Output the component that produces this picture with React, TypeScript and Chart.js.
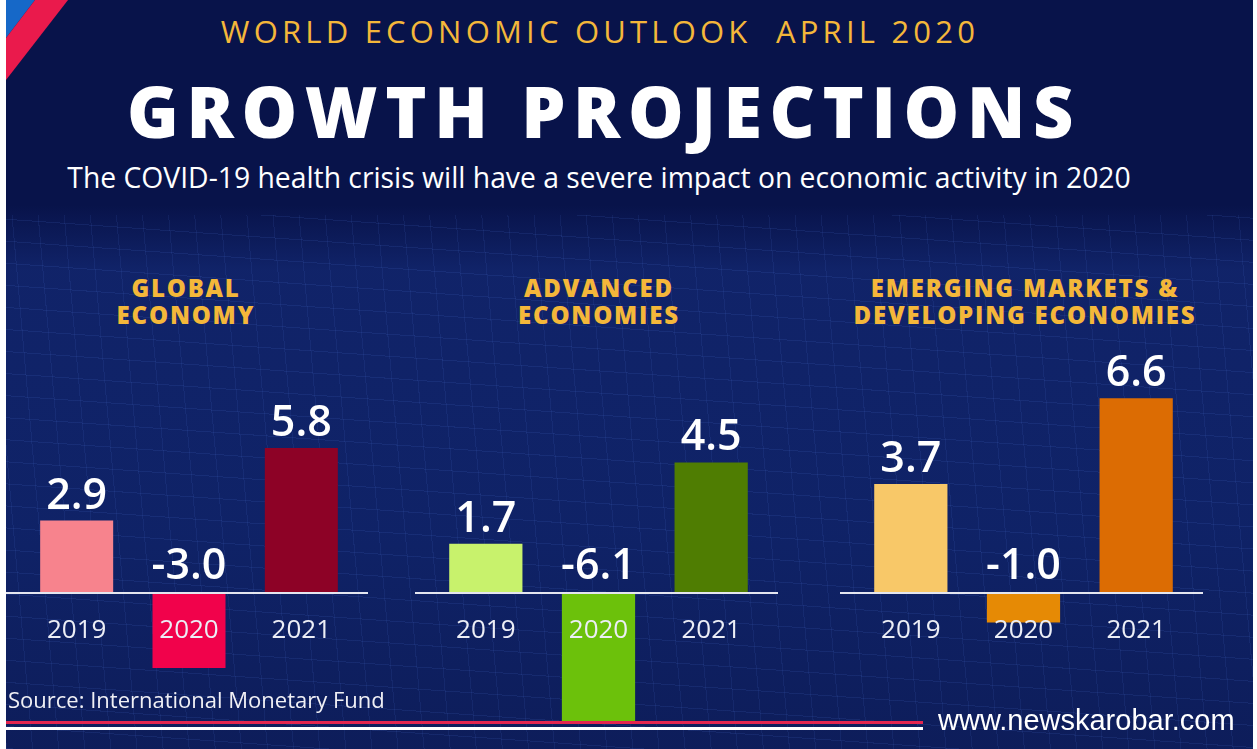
import React, { useEffect, useRef } from "react";
import { Chart, registerables } from "chart.js";

Chart.register(...registerables);

// ---------- data ----------
const years = ["2019", "2020", "2021"];
const globalValues = [2.9, -3.0, 5.8];
const advancedValues = [1.7, -6.1, 4.5];
const emergingValues = [3.7, -1.0, 6.6];

const globalTitle = ["GLOBAL", "ECONOMY"];
const advancedTitle = ["ADVANCED", "ECONOMIES"];
const emergingTitle = ["EMERGING MARKETS &", "DEVELOPING ECONOMIES"];

// ---------- styles ----------
const globalColors = ["#f7838d", "#f1024b", "#8d0226"];
const advancedColors = ["#c8f26c", "#6cc10b", "#4f7d02"];
const emergingColors = ["#f8c868", "#e68a05", "#dc6c03"];

const NAVY = "#08134a";
const GOLD = "#f4b73a";

const labelPlugin = {
  id: "barLabels",
  afterDatasetsDraw(chart: any) {
    const { ctx } = chart;
    const y = chart.scales.y;
    const zeroY = y.getPixelForValue(0);
    ctx.save();
    ctx.strokeStyle = "#e4e6f0";
    ctx.lineWidth = 2;
    ctx.beginPath();
    ctx.moveTo(0, zeroY);
    ctx.lineTo(chart.width, zeroY);
    ctx.stroke();
    const meta = chart.getDatasetMeta(0);
    const values = chart.data.datasets[0].data;
    meta.data.forEach((bar: any, i: number) => {
      const v = values[i] as number;
      ctx.font = '600 43px "Open Sans"';
      ctx.fillStyle = "#ffffff";
      ctx.textAlign = "center";
      ctx.textBaseline = "alphabetic";
      const ty = v >= 0 ? bar.y - 12 : zeroY - 14;
      ctx.fillText(v.toFixed(1), bar.x, ty);
      ctx.font = '26px "Open Sans"';
      ctx.fillStyle = "#eceef6";
      ctx.textBaseline = "middle";
      ctx.fillText(chart.data.labels[i], bar.x, zeroY + 38);
    });
    ctx.restore();
  },
};

function BarPanel(props: {
  values: number[];
  colors: string[];
  min: number;
  max: number;
  left: number;
  width: number;
}) {
  const ref = useRef<HTMLCanvasElement>(null);
  useEffect(() => {
    if (!ref.current) return;
    const chart = new Chart(ref.current, {
      type: "bar",
      data: {
        labels: years,
        datasets: [
          {
            data: props.values,
            backgroundColor: props.colors,
            borderWidth: 0,
            barPercentage: 0.65,
            categoryPercentage: 1,
          },
        ],
      },
      options: {
        responsive: false,
        animation: false,
        layout: { padding: { top: 30, bottom: 0, left: 14.5, right: 10.5 } },
        plugins: { legend: { display: false }, tooltip: { enabled: false } },
        scales: {
          x: { display: false },
          y: { display: false, min: props.min, max: props.max },
        },
      },
      plugins: [labelPlugin],
    });
    return () => chart.destroy();
  }, []);
  return (
    <canvas
      ref={ref}
      width={props.width}
      height={382}
      style={{ position: "absolute", left: props.left, top: 340, width: props.width, height: 382 }}
    />
  );
}

function Heading(props: { lines: string[]; center: number }) {
  return (
    <div
      style={{
        position: "absolute",
        left: props.center - 220,
        width: 440,
        top: 274,
        textAlign: "center",
        color: GOLD,
        fontFamily: '"Open Sans", sans-serif',
        fontWeight: 800,
        fontSize: 24,
        lineHeight: "27px",
        letterSpacing: 1.8,
      }}
    >
      {props.lines.map((l, i) => (
        <div key={i}>{l}</div>
      ))}
    </div>
  );
}

export default function App() {
  return (
    <div
      style={{
        position: "absolute",
        left: 0,
        top: 0,
        width: 1257,
        height: 749,
        background: "#ffffff",
        overflow: "hidden",
      }}
    >
      <div
        style={{
          position: "absolute",
          left: 6,
          top: 0,
          width: 1247,
          height: 749,
          background: NAVY,
          overflow: "hidden",
        }}
      >
        <div
          style={{
            position: "absolute",
            left: 0,
            top: 205,
            width: 1247,
            height: 544,
            background:
              "linear-gradient(180deg, rgba(16,34,100,0) 0%, rgba(18,38,110,0.85) 12%, rgba(16,36,106,0.9) 60%, rgba(14,30,92,0.9) 100%)",
          }}
        />
        <div
          style={{
            position: "absolute",
            left: 0,
            top: 215,
            width: 1247,
            height: 534,
            backgroundImage:
              "repeating-linear-gradient(4deg, rgba(80,120,220,0.13) 0px, rgba(80,120,220,0.13) 1px, transparent 1px, transparent 22px), repeating-linear-gradient(85deg, rgba(80,120,220,0.11) 0px, rgba(80,120,220,0.11) 1px, transparent 1px, transparent 26px)",
          }}
        />
        <svg width={80} height={90} style={{ position: "absolute", left: 0, top: 0 }}>
          <polygon points="0,0 29,0 0,38" fill="#1668c8" />
          <polygon points="29,0 62,0 0,80 0,38" fill="#ea1a4c" />
        </svg>
      </div>

      <div
        style={{
          position: "absolute",
          left: 0,
          width: 1200,
          top: 16,
          textAlign: "center",
          color: GOLD,
          fontFamily: '"Open Sans", sans-serif',
          fontSize: 31,
          lineHeight: "31px",
          letterSpacing: 4.2,
          whiteSpace: "pre",
        }}
      >
        {"WORLD ECONOMIC OUTLOOK  APRIL 2020"}
      </div>
      <div
        style={{
          position: "absolute",
          left: 4,
          width: 1200,
          top: 76,
          textAlign: "center",
          color: "#ffffff",
          fontFamily: '"Open Sans", sans-serif',
          fontWeight: 800,
          fontSize: 70,
          lineHeight: "70px",
          letterSpacing: 7.6,
          whiteSpace: "pre",
        }}
      >
        GROWTH PROJECTIONS
      </div>
      <div
        style={{
          position: "absolute",
          left: 0,
          width: 1198,
          top: 163,
          textAlign: "center",
          color: "#ffffff",
          fontFamily: '"Open Sans", sans-serif',
          fontSize: 28.3,
          lineHeight: "28px",
          whiteSpace: "pre",
        }}
      >
        The COVID-19 health crisis will have a severe impact on economic activity in 2020
      </div>

      <Heading lines={globalTitle} center={186} />
      <Heading lines={advancedTitle} center={599} />
      <Heading lines={emergingTitle} center={1025} />

      <BarPanel values={globalValues} colors={globalColors} min={-5.16} max={8.92} left={6} width={362} />
      <BarPanel values={advancedValues} colors={advancedColors} min={-4.45} max={7.69} left={415} width={363} />
      <BarPanel values={emergingValues} colors={emergingColors} min={-4.37} max={7.56} left={840} width={363} />

      <div
        style={{
          position: "absolute",
          left: 8,
          top: 688,
          color: "#f0f0f5",
          fontFamily: '"Open Sans", sans-serif',
          fontSize: 22,
          lineHeight: "22px",
          whiteSpace: "pre",
        }}
      >
        Source: International Monetary Fund
      </div>
      <div style={{ position: "absolute", left: 6, top: 721, width: 917, height: 3, background: "#e3254f" }} />
      <div style={{ position: "absolute", left: 6, top: 727, width: 917, height: 3, background: "#ffffff" }} />
      <div
        style={{
          position: "absolute",
          left: 938,
          top: 706,
          color: "#ffffff",
          fontFamily: '"Liberation Sans", Arial, sans-serif',
          fontSize: 29,
          lineHeight: "29px",
          whiteSpace: "pre",
        }}
      >
        www.newskarobar.com
      </div>
    </div>
  );
}
